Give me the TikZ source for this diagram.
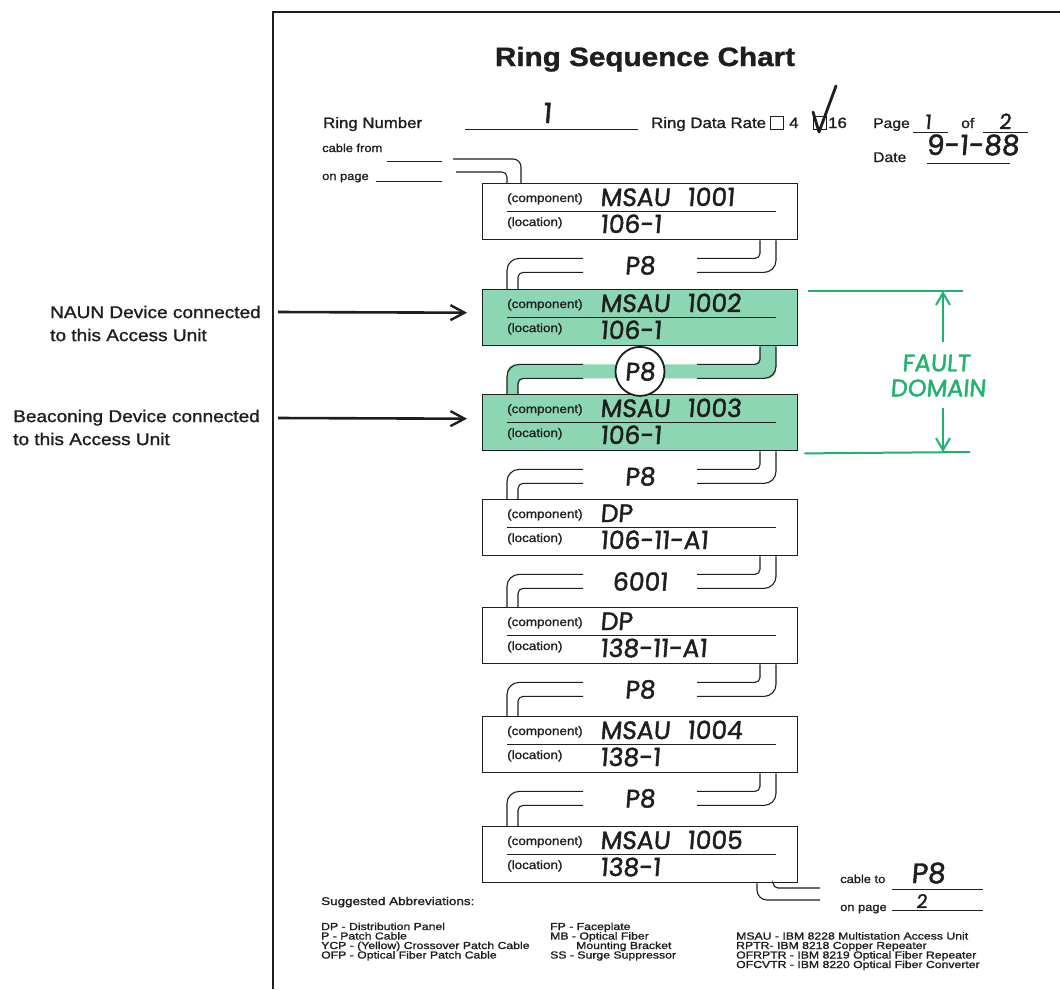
\documentclass[tikz,border=0pt]{standalone}
\usepackage{fontspec}
\usetikzlibrary{calc,arrows.meta}
\newfontfamily\formfont[FakeStretch=1.12,FakeBold=1.2]{Liberation Sans}
\newfontfamily\legfont[FakeStretch=1.2,FakeBold=1.2]{Liberation Sans}
\newfontfamily\handfont[FakeSlant=0.08,FakeBold=1.6]{Poppins}
\definecolor{mint}{RGB}{141,214,180}
\definecolor{faultgreen}{RGB}{32,178,110}
\definecolor{ink}{RGB}{30,30,30}
\pgfdeclarelayer{background}
\pgfsetlayers{background,main}
\tikzset{
  frameline/.style={draw=ink, line width=1.6pt},
  boxst/.style={draw=ink, line width=1.4pt, minimum width=315pt, minimum height=56pt, inner sep=0pt, anchor=north west},
  rule/.style={draw=ink, line width=0.9pt},
  wire/.style={draw=ink, line width=1.1pt},
  blank/.style={draw=ink, line width=0.9pt},
  formtext/.style={inner sep=0pt, text=ink, font=\formfont\fontsize{12}{14}\selectfont},
  hdrtext/.style={inner sep=0pt, text=ink, font=\formfont\fontsize{15}{18}\selectfont},
  smalltext/.style={inner sep=0pt, text=ink, font=\formfont\fontsize{11.5}{14}\selectfont},
  legtext/.style={inner sep=0pt, text=ink, anchor=base west, font=\legfont\fontsize{10.2}{11}\selectfont},
  sidetext/.style={inner sep=0pt, text=ink, align=left, font=\formfont\fontsize{17}{23}\selectfont},
  titletext/.style={inner sep=0pt, text=ink, font=\formfont\bfseries\fontsize{26.5}{30}\selectfont},
  handtext/.style={inner sep=0pt, text=ink, font=\handfont\fontsize{25}{26}\selectfont},
  faulttext/.style={inner sep=0pt, text=faultgreen, font=\handfont\fontsize{24}{26}\selectfont},
  faultline/.style={draw=faultgreen, line width=2pt},
  faultarrow/.style={draw=faultgreen, line width=2pt, -{Straight Barb[length=12pt, width=14pt, line width=2pt]}},
  pointer/.style={draw=ink, line width=2.6pt, -{Straight Barb[length=14pt, width=15pt, line width=2.4pt]}},
  ringcircle/.style={circle, draw=ink, line width=1.8pt, fill=white, minimum size=49pt}
}
% box: name, top y, fill, component, location
\newcommand\chartbox[5]{%
  \node[boxst, fill=#3] (#1) at (482,#2) {};
  \draw[rule] ($(#1.north west)+(25,28)$) -- ($(#1.north west)+(294,28)$);
  \node[formtext, anchor=base west] (#1c) at ($(#1.north west)+(25,19)$) {(component)};
  \node[formtext, anchor=base west] (#1l) at ($(#1.north west)+(25,43)$) {(location)};
  \node[handtext, anchor=base west] (#1v) at ($(#1.north west)+(118,23)$) {#4};
  \node[handtext, anchor=base west] (#1w) at ($(#1.north west)+(118,50)$) {#5};
}
% cable between boxes: [label style], upper, lower, label, label name
\newcommand\cablelink[5][]{%
  \draw[wire, rounded corners=12pt] ($(#2.south west)+(294,0)$) -- ($(#2.south west)+(294,32)$) -- ($(#2.south west)+(215,32)$);
  \draw[wire, rounded corners=5pt] ($(#2.south west)+(101,32)$) -- ($(#2.south west)+(36,32)$) -- ($(#3.north west)+(36,0)$);
  \draw[wire, rounded corners=5pt] ($(#2.south west)+(278,0)$) -- ($(#2.south west)+(278,18)$) -- ($(#2.south west)+(215,18)$);
  \draw[wire, rounded corners=12pt] ($(#2.south west)+(101,18)$) -- ($(#2.south west)+(25,18)$) -- ($(#3.north west)+(25,0)$);
  \node[handtext, anchor=center, #1] (#5) at ($(#2.south west)+(158,25)$) {#4};
}
\newcommand\msau[1]{MSAU\hspace{17pt}#1}
\begin{document}
\begin{tikzpicture}[x=1pt,y=-1pt]
\useasboundingbox (0,0) rectangle (1060,989);
\begin{pgfonlayer}{background}
\fill[white] (0,0) rectangle (1060,989);
\end{pgfonlayer}
\draw[frameline] (1060,12) -- (273,12) -- (273,989);

% header
\node[titletext, anchor=base] (title) at (645,66) {Ring Sequence Chart};
\node[hdrtext, anchor=base west] (ringnum) at (323,128) {Ring Number};
\draw[blank] (465,129) -- (638,129);
\node[handtext, font=\handfont\fontsize{28}{30}\selectfont, anchor=base] (ringval) at (547,123) {1};
\node[hdrtext, anchor=base west] (rate) at (651,128) {Ring Data Rate};
\draw[ink, line width=1pt] (770,116) rectangle (783,129);
\node[hdrtext, anchor=base west] (rate4) at (789,128) {4};
\draw[ink, line width=1pt] (813,116) rectangle (826,129);
\node[hdrtext, anchor=base west] (rate16) at (828,128) {16};
\draw[ink, line width=2.8pt, line cap=round, line join=round] (813,112) -- (819,132) -- (836,86);
\node[hdrtext, font=\formfont\fontsize{14}{16}\selectfont, anchor=base west] (page) at (873,128) {Page};
\draw[blank] (913,132) -- (948,132);
\node[handtext, font=\handfont\fontsize{20}{22}\selectfont, anchor=base] (pageval) at (928,129) {1};
\node[hdrtext, font=\formfont\fontsize{14}{16}\selectfont, anchor=base west] (of) at (961,128) {of};
\draw[blank] (983,132) -- (1028,132);
\node[handtext, font=\handfont\fontsize{21}{22}\selectfont, anchor=base] (ofval) at (1005,129) {2};
\node[hdrtext, font=\formfont\fontsize{14}{16}\selectfont, anchor=base west] (date) at (873,162) {Date};
\draw[blank] (927,163) -- (1010,163);
\node[handtext, font=\handfont\fontsize{28}{30}\selectfont, anchor=base west] (dateval) at (926,155) {9-1-88};

\node[smalltext, anchor=base west] (cablefrom) at (322,152) {cable from};
\draw[blank] (387,161) -- (442,161);
\node[smalltext, anchor=base west] (onpage1) at (322,180) {on page};
\draw[blank] (376,181) -- (442,181);

% boxes
\chartbox{b1}{183}{white}{\msau{1001}}{106-1}
\chartbox{b2}{289}{mint}{\msau{1002}}{106-1}
\chartbox{b3}{394}{mint}{\msau{1003}}{106-1}
\chartbox{b4}{499}{white}{DP}{106-11-A1}
\chartbox{b5}{607}{white}{DP}{138-11-A1}
\chartbox{b6}{716}{white}{\msau{1004}}{138-1}
\chartbox{b7}{826}{white}{\msau{1005}}{138-1}

% cable from previous page
\coordinate (cf1) at (453,159);
\coordinate (cf2) at (456,172);
\draw[wire, rounded corners=8pt] (cf1) -- (cf1 -| {$(b1.north west)+(39,0)$}) -- ($(b1.north west)+(39,0)$);
\draw[wire, rounded corners=5pt] (cf2) -- (cf2 -| {$(b1.north west)+(25,0)$}) -- ($(b1.north west)+(25,0)$);

% green band of the fault domain cable
\begin{pgfonlayer}{background}
\fill[mint, rounded corners=8pt] ($(b2.south west)+(278,-10)$) -- ($(b2.south west)+(294,-10)$) -- ($(b2.south west)+(294,32)$) -- ($(b2.south west)+(36,32)$) -- ($(b3.north west)+(36,10)$) -- ($(b3.north west)+(25,10)$) -- ($(b2.south west)+(25,18)$) -- ($(b2.south west)+(278,18)$) -- cycle;
\end{pgfonlayer}

% cables between boxes
\cablelink{b1}{b2}{P8}{c12}
\cablelink[ringcircle]{b2}{b3}{P8}{c23}
\cablelink{b3}{b4}{P8}{c34}
\cablelink{b4}{b5}{6001}{c45}
\cablelink{b5}{b6}{P8}{c56}
\cablelink{b6}{b7}{P8}{c67}

% cable to next page
\coordinate (ct1) at (820,888);
\coordinate (ct2) at (820,900);
\draw[wire, rounded corners=5pt] ($(b7.south west)+(291,0)$) -- (ct1 -| {$(b7.south west)+(291,0)$}) -- (ct1);
\draw[wire, rounded corners=10pt] ($(b7.south west)+(275,0)$) -- (ct2 -| {$(b7.south west)+(275,0)$}) -- (ct2);
\node[smalltext, anchor=base west] (cableto) at (840,883) {cable to};
\draw[blank] (892,889) -- (983,889);
\node[handtext, font=\handfont\fontsize{28}{30}\selectfont, anchor=base west] (cabletoval) at (911,883) {P8};
\node[smalltext, anchor=base west] (onpage2) at (840,911) {on page};
\draw[blank] (892,910) -- (983,910);
\node[handtext, font=\handfont\fontsize{19}{20}\selectfont, anchor=base west] (onpage2val) at (916,908) {2};

% fault domain
\coordinate (ft1) at (963,291);
\coordinate (ft2) at (970,452);
\draw[faultline] ($(b2.north east)+(10,2)$) -- (ft1);
\draw[faultline] ($(b3.south east)+(6,2)$) -- (ft2);
\node[faulttext, anchor=center] (fault1) at (936,363) {FAULT};
\node[faulttext, anchor=center] (fault2) at (938,388) {DOMAIN};
\coordinate (fa1) at (943,342);
\coordinate (fa2) at (943,408);
\draw[faultarrow] (fa1) -- (fa1 |- ft1);
\draw[faultarrow] (fa2) -- (fa2 |- ft2);

% side notes
\node[sidetext, anchor=west] (naun) at (50,323.5) {NAUN Device connected\\to this Access Unit};
\node[sidetext, anchor=west] (beacon) at (13,427.5) {Beaconing Device connected\\to this Access Unit};
\coordinate (pa1) at (278,312);
\coordinate (pa2) at (278,418);
\draw[pointer] (pa1) -- ($(b2.west)+(-15,-5)$);
\draw[pointer] (pa2) -- ($(b3.west)+(-15,-4)$);

% legend
\node[legtext, font=\legfont\fontsize{11.2}{12}\selectfont] (lg0) at (321,905) {Suggested Abbreviations:};
\node[legtext] (lg1) at (321,930) {DP - Distribution Panel};
\node[legtext] (lg2) at (321,939.5) {P - Patch Cable};
\node[legtext] (lg3) at (321,949) {YCP - (Yellow) Crossover Patch Cable};
\node[legtext] (lg4) at (321,958.5) {OFP - Optical Fiber Patch Cable};
\node[legtext] (lg5) at (550,930) {FP - Faceplate};
\node[legtext] (lg6) at (550,939.5) {MB - Optical Fiber};
\node[legtext] (lg7) at (576,949) {Mounting Bracket};
\node[legtext] (lg8) at (550,958.5) {SS - Surge Suppressor};
\node[legtext] (lg9) at (736,939.5) {MSAU - IBM 8228 Multistation Access Unit};
\node[legtext] (lg10) at (736,949) {RPTR- IBM 8218 Copper Repeater};
\node[legtext] (lg11) at (736,958.5) {OFRPTR - IBM 8219 Optical Fiber Repeater};
\node[legtext] (lg12) at (736,968) {OFCVTR - IBM 8220 Optical Fiber Converter};
\end{tikzpicture}
\end{document}
